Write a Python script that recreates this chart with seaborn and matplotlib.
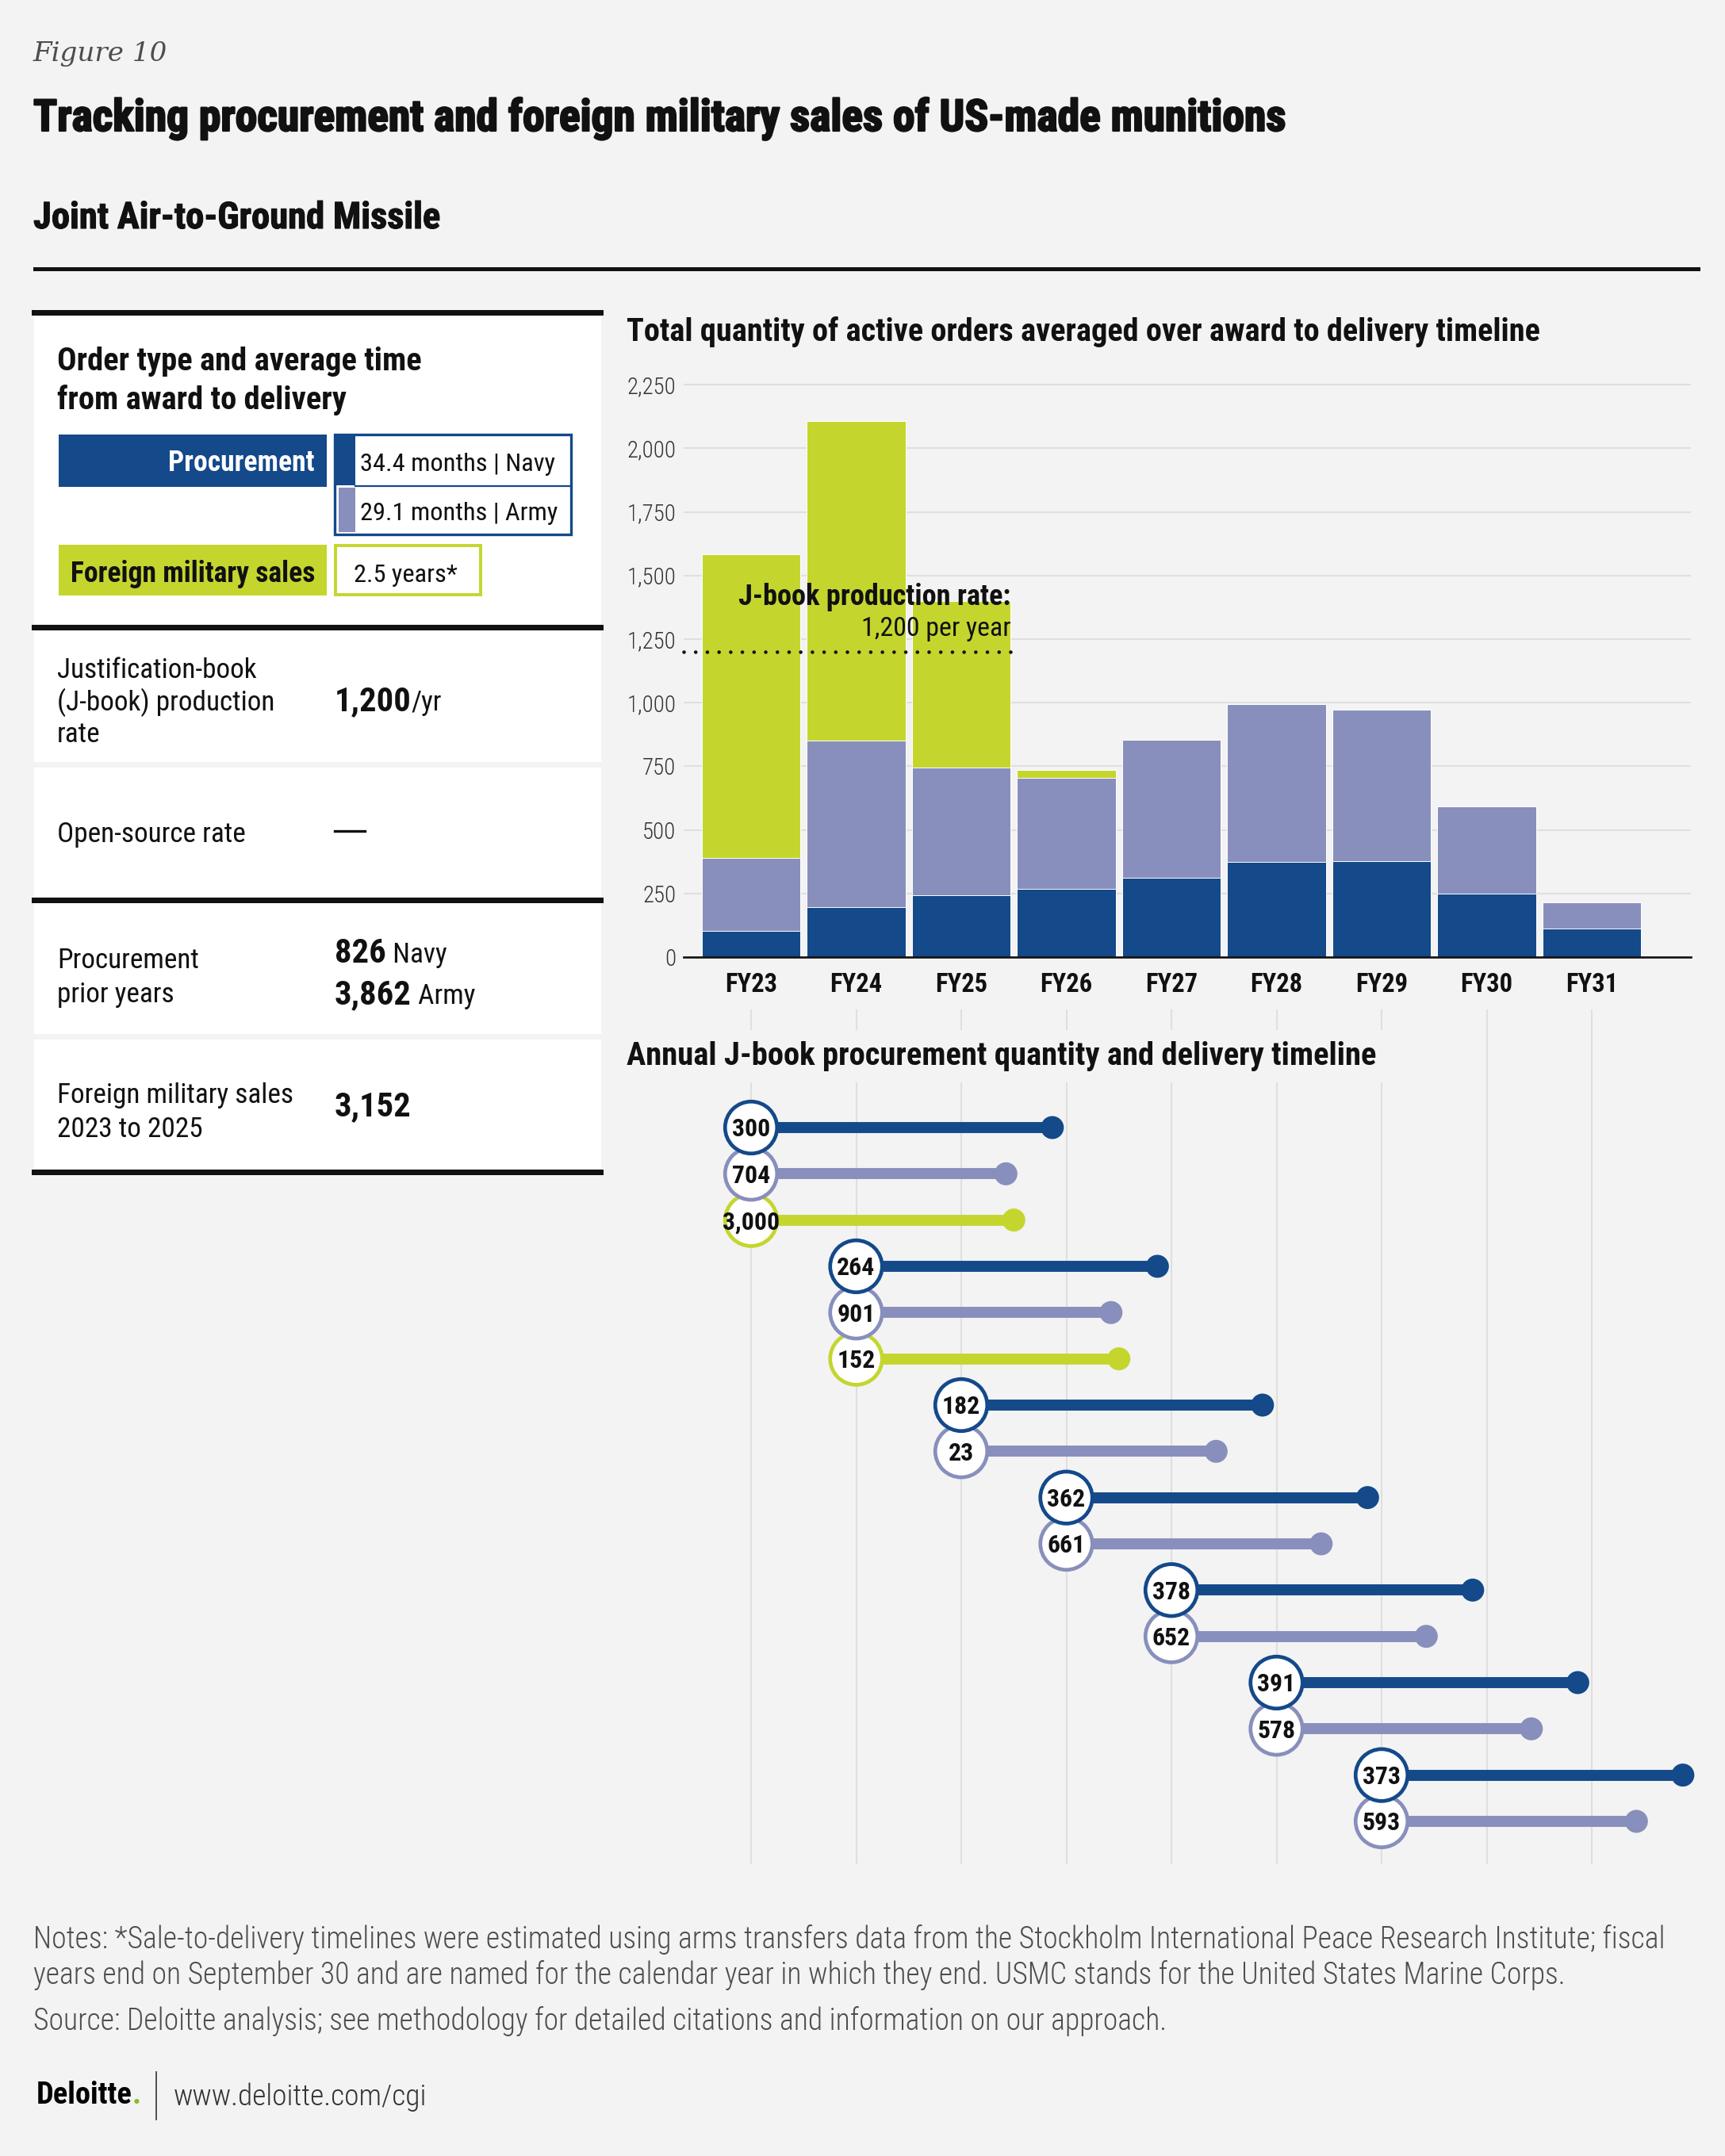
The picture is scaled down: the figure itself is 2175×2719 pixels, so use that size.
import os
import numpy as np
import pandas as pd
import matplotlib
matplotlib.use("Agg")
import matplotlib.pyplot as plt
import matplotlib.patheffects as pe
import seaborn as sns
from matplotlib import font_manager as fm
from matplotlib.patches import Rectangle
from matplotlib.backends.backend_agg import RendererAgg

# ---------------- data ----------------
years = ["FY23", "FY24", "FY25", "FY26", "FY27", "FY28", "FY29", "FY30", "FY31"]
navy_active = [102, 195, 243, 268, 311, 375, 377, 248, 111]
army_active = [289, 657, 502, 436, 543, 620, 594, 345, 105]
fms_active = [1193, 1255, 653, 32, 0, 0, 0, 0, 0]
y_ticks = [0, 250, 500, 750, 1000, 1250, 1500, 1750, 2000, 2250]
y_tick_labels = ["0", "250", "500", "750", "1,000", "1,250", "1,500", "1,750", "2,000", "2,250"]
jbook_rate = 1200

order_year = ["FY23", "FY23", "FY23", "FY24", "FY24", "FY24", "FY25", "FY25",
              "FY26", "FY26", "FY27", "FY27", "FY28", "FY28", "FY29", "FY29"]
order_type = ["Navy", "Army", "FMS", "Navy", "Army", "FMS", "Navy", "Army",
              "Navy", "Army", "Navy", "Army", "Navy", "Army", "Navy", "Army"]
order_qty = [300, 704, 3000, 264, 901, 152, 182, 23, 362, 661, 378, 652, 391, 578, 373, 593]
delivery_months = {"Navy": 34.4, "Army": 29.1, "FMS": 30.0}

title = "Tracking procurement and foreign military sales of US-made munitions"
subtitle = "Joint Air-to-Ground Missile"
bar_title = "Total quantity of active orders averaged over award to delivery timeline"
lolli_title = "Annual J-book procurement quantity and delivery timeline"
note1 = ("Notes: *Sale-to-delivery timelines were estimated using arms transfers data from the "
         "Stockholm International Peace Research Institute; fiscal")
note2 = ("years end on September 30 and are named for the calendar year in which they end. "
         "USMC stands for the United States Marine Corps.")
source = "Source: Deloitte analysis; see methodology for detailed citations and information on our approach."

# ---------------- style ----------------
W, H = 2175, 2719
BG = "#F3F3F3"
NAVY = "#14498A"
ARMY = "#888FBC"
LIME = "#C4D62E"
GRID = "#DFDFDF"
INK = "#111111"
GREY = "#4D4D4D"

TTF = fm.fontManager.ttflist
BYBASE = {}
for f in TTF:
    BYBASE.setdefault(os.path.basename(f.fname).lower(), f.fname)


def _wnum(w):
    if isinstance(w, (int, float)):
        return int(w)
    return fm.weight_dict.get(str(w), 400)


def pick(cands, target_w, fb_family, fb_weight):
    for c in cands:
        if c in BYBASE:
            return fm.FontProperties(fname=BYBASE[c])
    best = None
    for f in TTF:
        nm = (f.name + " " + os.path.basename(f.fname)).lower()
        if any(k in nm for k in ("mono", "italic", "oblique", "serif", "cjk", "math")):
            continue
        if f.style != "normal":
            continue
        if ("condensed" in nm or "narrow" in nm or
                str(f.stretch) in ("condensed", "semi-condensed", "extra-condensed", "ultra-condensed")):
            d = abs(_wnum(f.weight) - target_w)
            if best is None or d < best[0]:
                best = (d, f)
    if best is not None:
        return fm.FontProperties(fname=best[1].fname)
    return fm.FontProperties(family=[fb_family, "DejaVu Sans"], weight=fb_weight)


CB_L = ["robotocondensed-bold.ttf", "notosans-condensedbold.ttf", "opensans-condbold.ttf",
        "opensans_condensed-bold.ttf", "liberationsansnarrow-bold.ttf",
        "dejavusanscondensed-bold.ttf", "notosans-semicondensedbold.ttf"]
CK_L = ["notosans-condensedblack.ttf", "notosans-condensedextrabold.ttf", "robotocondensed-black.ttf",
        "robotocondensed-extrabold.ttf", "notosans-extracondensedblack.ttf"] + CB_L
CR_L = ["robotocondensed-regular.ttf", "notosans-condensed.ttf", "notosans-condensedregular.ttf",
        "opensans_condensed-regular.ttf", "liberationsansnarrow-regular.ttf",
        "dejavusanscondensed.ttf", "notosans-semicondensed.ttf"]
CL_L = ["robotocondensed-light.ttf", "notosans-condensedlight.ttf", "opensans-condlight.ttf",
        "opensans_condensed-light.ttf"] + CR_L

CK = pick(CK_L, 900, "Roboto", "black")
CB = pick(CB_L, 700, "Roboto", "bold")
CR = pick(CR_L, 400, "Roboto", "normal")
CL = pick(CL_L, 300, "Roboto", "light")
SERIF_I = fm.FontProperties(family=["DejaVu Serif"], style="italic", weight="light")

RR = RendererAgg(W, H, 100)


def tw(s, fp, size):
    p = fp.copy()
    p.set_size(size)
    w, h, d = RR.get_text_width_height_descent(s, p, ismath=False)
    return w


def fit(s, fp, target, cap):
    base = 20.0
    size = base * target / tw(s, fp, base)
    return float(np.clip(size, 0.6 * cap, 1.15 * cap))


# ---------------- figure ----------------
fig = plt.figure(figsize=(W / 100, H / 100), dpi=100)
fig.patch.set_facecolor(BG)


def rect(l, t, r, b):
    return [l / W, 1 - b / H, (r - l) / W, (b - t) / H]


ov = fig.add_axes([0, 0, 1, 1])
ov.set_xlim(0, W)
ov.set_ylim(H, 0)
ov.axis("off")
ov.set_zorder(0)


def put(x, y, s, fp, size, color=INK, ha="left", va="baseline", ax=None, **kw):
    a = ax if ax is not None else ov
    return a.text(x, y, s, fontproperties=fp, fontsize=size, color=color, ha=ha, va=va, **kw)


def box(x, y, w, h, **kw):
    ov.add_patch(Rectangle((x, y), w, h, **kw))


heavy = [pe.withStroke(linewidth=1.6, foreground=INK)]

# header
put(42, 77, "Figure 10", SERIF_I, fit("Figure 10", SERIF_I, 169, 26), color=GREY)
put(42, 165, title, CK, fit(title, CK, 1575, 38), path_effects=heavy)
put(42, 288, subtitle, CB, fit(subtitle, CB, 512, 33),
    path_effects=[pe.withStroke(linewidth=0.8, foreground=INK)])
box(42, 337, 2102, 5, fc=INK, ec="none")

# ---------------- left panel ----------------
box(43, 398, 715, 389, fc="white", ec="none")
box(43, 794, 715, 167, fc="white", ec="none")
box(43, 968, 715, 163, fc="white", ec="none")
box(43, 1139, 715, 165, fc="white", ec="none")
box(43, 1311, 715, 163, fc="white", ec="none")
for yy in (391, 788, 1132, 1475):
    box(40, yy, 721, 6.5, fc=INK, ec="none")

hdr = fit("Order type and average time", CB, 457, 30)
put(72, 467, "Order type and average time", CB, hdr)
put(72, 516, "from award to delivery", CB, hdr)

box(74, 548, 338, 66, fc=NAVY, ec="none")
lab = fit("Foreign military sales", CB, 307, 28)
put(397, 594, "Procurement", CB, lab, color="white", ha="right")
box(422, 548, 298, 126, fc="white", ec=NAVY, lw=2.4)
box(423, 549, 25, 63, fc=NAVY, ec="none")
box(427, 615, 21, 56, fc=ARMY, ec="none")
ov.plot([448, 720], [613, 613], color=NAVY, lw=1.6)
bt = fit("34.4 months | Navy", CR, 245, 28)
put(454, 594, "34.4 months | Navy", CR, bt)
put(454, 656, "29.1 months | Army", CR, bt)

box(74, 687, 338, 64, fc=LIME, ec="none")
put(397, 734, "Foreign military sales", CB, lab, ha="right")
box(423, 688, 183, 62, fc="white", ec=LIME, lw=2.8)
put(446, 734, "2.5 years*", CR, bt)

body = fit("Justification-book", CR, 251, 29)
val = fit("3,862", CB, 97, 33)
put(72, 855, "Justification-book", CR, body)
put(72, 896, "(J-book) production", CR, body)
put(72, 936, "rate", CR, body)
put(422, 896, "1,200", CB, val)
put(422 + tw("1,200", CB, val), 896, "/yr", CR, body)

put(72, 1062, "Open-source rate", CR, body)
ov.plot([422, 460], [1048, 1048], color=INK, lw=2.4)

put(72, 1221, "Procurement", CR, body)
put(72, 1264, "prior years", CR, body)
put(422, 1214, "826", CB, val)
put(422 + tw("826", CB, val), 1214, " Navy", CR, body)
put(422, 1266, "3,862", CB, val)
put(422 + tw("3,862", CB, val), 1266, " Army", CR, body)

put(72, 1391, "Foreign military sales", CR, body)
put(72, 1434, "2023 to 2025", CR, body)
put(422, 1407, "3,152", CB, val)

# ---------------- bar chart ----------------
X0, DX = 947.0, 132.5
xl, xr = (862 - X0) / DX, (2132 - X0) / DX
BAR_W = 0.94

put(790, 430, bar_title, CB, fit(bar_title, CB, 1149, 28))

bx = fig.add_axes(rect(862, 470, 2132, 1207))
bx.set_facecolor("none")
bx.set_zorder(1)
bd = pd.DataFrame({"year": years, "navy": navy_active, "army": army_active, "fms": fms_active})
bd["navy_army"] = bd["navy"] + bd["army"]
bd["total"] = bd["navy_army"] + bd["fms"]
for col, c in (("total", LIME), ("navy_army", ARMY), ("navy", NAVY)):
    sns.barplot(data=bd, x="year", y=col, color=c, saturation=1, width=BAR_W, errorbar=None,
                edgecolor="white", linewidth=0.7, ax=bx, zorder=2)
bx.set_xlim(xl, xr)
bx.set_ylim(0, 2297)
for s in ("top", "right", "left"):
    bx.spines[s].set_visible(False)
bx.spines["bottom"].set_color(INK)
bx.spines["bottom"].set_linewidth(1.9)
bx.spines["bottom"].set_zorder(4)
bx.set_yticks(y_ticks)
bx.set_yticklabels(y_tick_labels, fontproperties=CL, fontsize=fit("2,250", CL, 62, 23), color="#333333")
bx.set_xticks(range(len(years)))
bx.set_xticklabels(years, fontproperties=CB, fontsize=fit("FY23", CB, 66, 24), color=INK)
bx.tick_params(axis="y", length=0, pad=7)
bx.tick_params(axis="x", length=0, pad=14)
bx.yaxis.grid(True, color=GRID, linewidth=1.5)
bx.xaxis.grid(False)
bx.set_axisbelow(True)
bx.set_xlabel("")
bx.set_ylabel("")

fy25_edge = 2 + BAR_W / 2
bx.plot([xl, fy25_edge], [jbook_rate, jbook_rate], color=INK, lw=3.3,
        linestyle=(0, (0.01, 3.2)), dash_capstyle="round", zorder=5, clip_on=False)
px_per_unit = 737 / 2297
put(fy25_edge, (1207 - 763) / px_per_unit, "J-book production rate:", CB,
    fit("J-book production rate:", CB, 342, 26), ha="right", ax=bx, zorder=6)
put(fy25_edge, (1207 - 802) / px_per_unit, "1,200 per year", CR, fit("1,200 per year", CR, 188, 26),
    ha="right", ax=bx, zorder=6)

# ---------------- lollipop chart ----------------
lx = fig.add_axes(rect(862, 1273, 2132, 2351))
lx.set_facecolor("none")
lx.set_zorder(1)
ROW0, DROW = 1422.0, 58.33
lx.set_xlim(xl, xr)
lx.set_ylim((2351 - ROW0) / DROW, (1273 - ROW0) / DROW)

ld = pd.DataFrame({"year": order_year, "type": order_type, "qty": order_qty})
ld["row"] = np.arange(len(ld), dtype=float)
ld["start"] = ld["year"].map({y: i for i, y in enumerate(years)}).astype(float)
ld["end"] = ld["start"] + ld["type"].map(delivery_months) / 12.0
pal = {"Navy": NAVY, "Army": ARMY, "FMS": LIME}

lx.hlines(ld["row"], ld["start"], ld["end"], colors=list(ld["type"].map(pal)), linewidth=10,
          zorder=2, clip_on=False)
sns.scatterplot(data=ld, x="end", y="row", hue="type", palette=pal, s=436, linewidth=0,
                legend=False, ax=lx, zorder=3, clip_on=False)
ring = ld.iloc[::-1]
sns.scatterplot(data=ring, x="start", y="row", hue="type", palette=pal, s=2225, linewidth=3.4,
                legend=False, ax=lx, zorder=4, clip_on=False)
coll = lx.collections[-1]
fcs = coll.get_facecolors()
coll.set_edgecolors(fcs)
coll.set_facecolors("white")

csz = fit("300", CB, 48, 25)
cap_rows = 0.36 * csz * 100 / 72 / DROW
for _, r in ld.iterrows():
    lx.text(r["start"], r["row"] + cap_rows, f"{int(r['qty']):,}", ha="center", va="baseline",
            fontproperties=CB, fontsize=csz, color=INK, zorder=6)

lx.set_xticks(range(len(years)))
lx.set_yticks([])
lx.xaxis.grid(True, color=GRID, linewidth=1.5)
lx.set_axisbelow(True)
lx.tick_params(length=0, labelbottom=False, labelleft=False)
for s in lx.spines.values():
    s.set_visible(False)
lx.set_xlabel("")
lx.set_ylabel("")
lx.text(790, 1343, lolli_title, transform=ov.transData, fontproperties=CB,
        fontsize=fit(lolli_title, CB, 944, 28), color=INK, ha="left", va="baseline", zorder=7,
        bbox=dict(boxstyle="square,pad=0.35", fc=BG, ec="none"))

# ---------------- notes & footer ----------------
nsz = fit(note1, CL, 2052, 27)
put(42, 2457, note1, CL, nsz, color=GREY)
put(42, 2502, note2, CL, nsz, color=GREY)
put(42, 2560, source, CL, nsz, color=GREY)

dsz = fit("Deloitte.", CB, 132, 24)
put(46, 2653, "Deloitte", CB, dsz, color="#000000")
put(46 + tw("Deloitte", CB, dsz), 2653, ".", CB, dsz, color="#86BC25")
ov.plot([197, 197], [2613, 2673], color="#333333", lw=1.2)
put(219, 2655, "www.deloitte.com/cgi", CL, fit("www.deloitte.com/cgi", CL, 319, 26), color="#333333")

fig.savefig("out.png", dpi=100, facecolor=BG)
